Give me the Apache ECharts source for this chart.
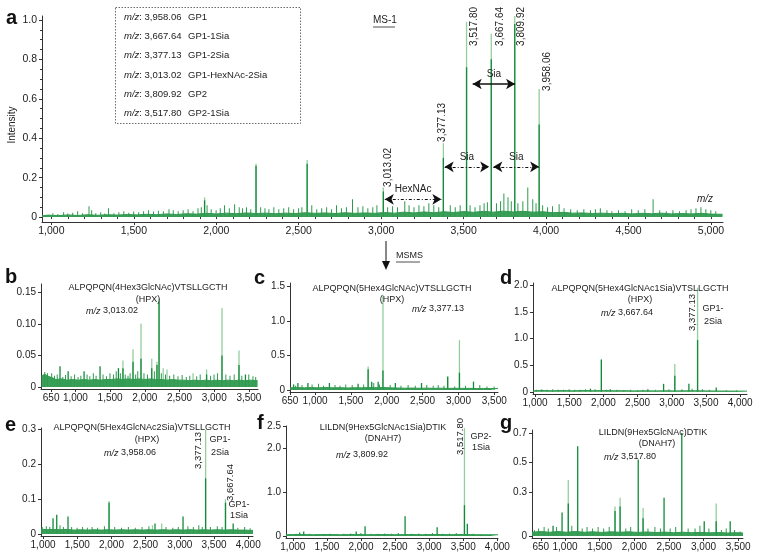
<!DOCTYPE html>
<html><head><meta charset="utf-8">
<script src="https://cdn.jsdelivr.net/npm/echarts@6/dist/echarts.min.js"></script>
<style>html,body{margin:0;padding:0;background:#fff}#c{width:761px;height:559px}</style>
</head><body><div id="c"></div>
<script>
// ---------------- DATA ----------------
// Panel a (MS-1)
const aXTicks = [1000,1500,2000,2500,3000,3500,4000,4500,5000];
const aYTicks = [0,0.2,0.4,0.6,0.8,1.0];
const aYLabels = ['0','0.2','0.4','0.6','0.8','1.0'];
const aLight = [[1929,0.10],[2241,0.27],[2551,0.29],[3013.02,0.15],[3377.13,0.375],[3517.80,0.99],[3667.64,0.93],[3809.92,1.02],[3958.06,0.65]];
const aDark = [[1929,0.085],[2241,0.26],[2551,0.27],[3013.02,0.13],[3377.13,0.30],[3517.80,0.76],[3667.64,0.80],[3809.92,0.98],[3958.06,0.47]];
const aSmall = [[1010,.02],[1040,.015],[1075,.025],[1100,.018],[1130,.022],[1160,.03],[1190,.02],[1229,.055],[1245,.035],[1270,.02],[1300,.025],[1325,.018],[1347,.045],[1380,.02],[1410,.025],[1440,.03],[1470,.022],[1500,.028],[1530,.025],[1560,.03],[1590,.035],[1620,.028],[1650,.032],[1680,.03],[1714,.04],[1740,.035],[1770,.03],[1800,.035],[1830,.04],[1860,.03],[1890,.045],[1910,.05],[1945,.06],[1970,.04],[2000,.035],[2025,.045],[2051,.06],[2080,.045],[2112,.065],[2140,.05],[2160,.045],[2184,.05],[2210,.04],[2270,.05],[2296,.045],[2320,.04],[2350,.05],[2380,.04],[2410,.045],[2440,.05],[2470,.04],[2500,.045],[2520,.05],[2580,.06],[2610,.04],[2640,.045],[2670,.05],[2700,.04],[2730,.06],[2760,.045],[2790,.05],[2827,.09],[2860,.05],[2890,.055],[2920,.045],[2950,.05],[2975,.06],[3040,.05],[3070,.055],[3100,.05],[3144,.08],[3170,.06],[3200,.05],[3230,.06],[3260,.055],[3290,.07],[3320,.06],[3350,.05],[3420,.06],[3450,.05],[3480,.06],[3540,.06],[3570,.05],[3600,.06],[3625,.07],[3645,.075],[3700,.07],[3725,.08],[3745,.12],[3770,.1],[3790,.08],[3830,.07],[3860,.08],[3890,.15],[3920,.09],[3940,.07],[3980,.06],[4010,.05],[4040,.055],[4080,.065],[4110,.045],[4150,.04],[4190,.035],[4230,.04],[4270,.035],[4300,.04],[4330,.045],[4370,.035],[4400,.03],[4440,.035],[4480,.03],[4520,.04],[4560,.035],[4600,.04],[4650,.09],[4690,.035],[4730,.03],[4770,.035],[4810,.03],[4850,.035],[4880,.04],[4910,.045],[4940,.05],[4970,.04],[5000,.035],[5030,.03]];
const aFloor = [[943,.006],[980,.01],[1040,.007],[1100,.011],[1160,.008],[1220,.012],[1280,.009],[1340,.012],[1400,.01],[1460,.013],[1520,.011],[1580,.014],[1640,.012],[1700,.016],[1760,.013],[1820,.017],[1880,.015],[1940,.019],[2000,.016],[2060,.02],[2120,.017],[2180,.021],[2240,.018],[2300,.02],[2360,.017],[2420,.02],[2480,.018],[2540,.022],[2600,.019],[2660,.021],[2720,.018],[2780,.022],[2840,.019],[2900,.021],[2960,.019],[3020,.023],[3080,.02],[3140,.025],[3200,.021],[3260,.026],[3320,.022],[3380,.027],[3440,.023],[3500,.028],[3560,.024],[3620,.029],[3680,.025],[3740,.03],[3800,.026],[3860,.029],[3920,.025],[3980,.027],[4040,.022],[4100,.024],[4160,.02],[4220,.021],[4280,.018],[4340,.02],[4400,.017],[4460,.019],[4520,.016],[4580,.019],[4640,.017],[4700,.02],[4760,.016],[4820,.018],[4880,.016],[4940,.019],[5000,.015],[5070,.014]];
const aPeakLabels = ['3,013.02','3,377.13','3,517.80','3,667.64','3,809.92','3,958.06'];
const aPeakMz = [3013.02,3377.13,3517.80,3667.64,3809.92,3958.06];
const aArrows = [[3555,3812,0.675,'Sia'],[3385,3655,0.255,'Sia'],[3680,3958,0.255,'Sia'],[3022,3365,0.09,'HexNAc']];
const aLegendMz = ['3,958.06','3,667.64','3,377.13','3,013.02','3,809.92','3,517.80'];
const aLegendName = ['GP1','GP1-1Sia','GP1-2Sia','GP1-HexNAc-2Sia','GP2','GP2-1Sia'];

// Panel b
const bXTicks = [650,1000,1500,2000,2500,3000,3500];
const bYTicks = [0,0.05,0.10,0.15];
const bYLabels = ['0','0.05','0.10','0.15'];
const bLight = [[1685,0.042],[1830,0.06],[1945,0.10],[2100,0.045],[2175,0.04],[2205,0.14],[2265,0.03],[2320,0.028],[2695,0.022],[2890,0.028],[3112,0.125],[3357,0.058]];
const bDark = [[778,0.033],[895,0.025],[1125,0.025],[1355,0.033],[1620,0.03],[1685,0.03],[1830,0.04],[1945,0.045],[2100,0.03],[2175,0.035],[2205,0.135],[2890,0.02],[3112,0.05],[3357,0.035],[3450,0.02]];
const bSmall = [[560,0.024],[600,0.022],[660,0.022],[700,0.018],[740,0.02],[820,0.016],[860,0.019],[940,0.017],[990,0.02],[1040,0.016],[1080,0.018],[1170,0.02],[1210,0.017],[1260,0.022],[1300,0.018],[1400,0.02],[1450,0.017],[1500,0.022],[1550,0.02],[1590,0.025],[1650,0.022],[1720,0.02],[1760,0.018],[1790,0.022],[1870,0.02],[1900,0.025],[1990,0.022],[2040,0.02],[2140,0.025],[2240,0.022],[2300,0.02],[2360,0.018],[2420,0.02],[2480,0.017],[2540,0.019],[2600,0.016],[2650,0.018],[2750,0.017],[2800,0.02],[2950,0.018],[3000,0.02],[3050,0.022],[3170,0.02],[3230,0.018],[3290,0.02],[3400,0.018],[3500,0.02],[3560,0.017],[3600,0.016]];
const bFloor = [[510,0.018],[560,0.02],[610,0.017],[660,0.015],[720,0.012],[800,0.013],[880,0.011],[960,0.012],[1040,0.011],[1120,0.012],[1200,0.011],[1280,0.012],[1360,0.011],[1440,0.012],[1520,0.012],[1600,0.013],[1680,0.012],[1760,0.013],[1840,0.012],[1920,0.013],[2000,0.012],[2080,0.013],[2160,0.012],[2240,0.012],[2320,0.011],[2400,0.012],[2480,0.011],[2560,0.011],[2640,0.01],[2720,0.011],[2800,0.01],[2880,0.011],[2960,0.01],[3040,0.011],[3120,0.01],[3200,0.011],[3280,0.01],[3360,0.011],[3440,0.01],[3520,0.011],[3625,0.01]];

// Panel c
const cXTicks = [650,1000,1500,2000,2500,3000,3500];
const cYTicks = [0,0.5,1.0,1.5];
const cYLabels = ['0','0.5','1.0','1.5'];
const cLight = [[1740,0.34],[1947,1.38],[2850,0.2],[3014,0.72]];
const cDark = [[700,0.08],[760,0.1],[900,0.1],[1200,0.1],[1600,0.09],[1740,0.3],[1790,0.12],[1880,0.12],[1947,0.28],[2120,0.1],[2485,0.1],[2850,0.19],[3014,0.25],[3210,0.12]];
const cSmall = [[730,0.06],[820,0.07],[960,0.08],[1050,0.09],[1120,0.06],[1280,0.07],[1350,0.06],[1430,0.08],[1520,0.07],[1680,0.08],[1820,0.1],[1900,0.08],[2050,0.07],[2200,0.06],[2300,0.07],[2400,0.06],[2560,0.07],[2650,0.06],[2720,0.07],[2800,0.06],[2950,0.05],[3100,0.06],[3300,0.07],[3400,0.05],[3500,0.05]];
const cFloor = [[650,0.03],[750,0.035],[850,0.03],[950,0.035],[1050,0.03],[1150,0.035],[1250,0.03],[1350,0.032],[1450,0.028],[1550,0.032],[1650,0.03],[1750,0.035],[1850,0.032],[1950,0.035],[2050,0.03],[2150,0.028],[2250,0.025],[2350,0.027],[2450,0.024],[2550,0.026],[2650,0.023],[2750,0.025],[2850,0.022],[2950,0.024],[3050,0.022],[3150,0.023],[3250,0.02],[3350,0.022],[3450,0.02],[3552,0.02]];

// Panel d
const dXTicks = [1000,1500,2000,2500,3000,3500,4000];
const dYTicks = [0,0.5,1.0,1.5,2.0];
const dYLabels = ['0','0.5','1.0','1.5','2.0'];
const dLight = [[1970,0.62],[3044,0.52],[3377.13,1.95]];
const dDark = [[1810,0.06],[1970,0.6],[2100,0.05],[2650,0.05],[2880,0.15],[3044,0.3],[3250,0.15],[3377.13,0.97],[3650,0.08]];
const dSmall = [[1020,0.04],[1100,0.05],[1180,0.04],[1260,0.05],[1340,0.04],[1420,0.04],[1500,0.05],[1580,0.04],[1660,0.04],[1740,0.05],[1880,0.05],[2050,0.04],[2200,0.04],[2300,0.03],[2400,0.04],[2500,0.03],[2580,0.04],[2760,0.04],[2960,0.05],[3150,0.05],[3300,0.06],[3450,0.05],[3550,0.04],[3800,0.03],[3950,0.03]];
const dFloor = [[970,0.02],[1100,0.025],[1250,0.02],[1400,0.025],[1550,0.02],[1700,0.025],[1850,0.022],[2000,0.025],[2150,0.02],[2300,0.022],[2450,0.018],[2600,0.02],[2750,0.018],[2900,0.02],[3050,0.018],[3200,0.02],[3350,0.022],[3500,0.018],[3650,0.016],[3800,0.015],[3950,0.014],[4100,0.014]];

// Panel e
const eXTicks = [1000,1500,2000,2500,3000,3500,4000];
const eYTicks = [0,0.1,0.2,0.3];
const eYLabels = ['0','0.1','0.2','0.3'];
const eLight = [[1965,0.095],[2600,0.025],[2735,0.03],[3377.13,0.30],[3667.64,0.10]];
const eDark = [[1146,0.045],[1200,0.055],[1365,0.05],[1965,0.09],[2637,0.03],[3047,0.05],[3377.13,0.16],[3667.64,0.09],[3780,0.03]];
const eSmall = [[990,0.02],[1050,0.022],[1100,0.02],[1250,0.025],[1300,0.02],[1420,0.02],[1500,0.018],[1580,0.02],[1650,0.018],[1720,0.02],[1800,0.018],[1900,0.022],[2050,0.02],[2150,0.018],[2250,0.02],[2350,0.018],[2450,0.02],[2550,0.022],[2800,0.02],[2900,0.018],[2980,0.02],[3120,0.022],[3200,0.02],[3280,0.025],[3330,0.02],[3450,0.02],[3550,0.022],[3620,0.02],[3850,0.018],[3950,0.02],[4030,0.016]];
const eFloor = [[970,0.014],[1050,0.012],[1150,0.013],[1250,0.012],[1350,0.013],[1450,0.011],[1550,0.012],[1650,0.011],[1750,0.012],[1850,0.011],[1950,0.012],[2050,0.011],[2150,0.012],[2250,0.011],[2350,0.012],[2450,0.011],[2550,0.012],[2650,0.011],[2750,0.012],[2850,0.011],[2950,0.012],[3050,0.011],[3150,0.012],[3250,0.011],[3350,0.012],[3450,0.011],[3550,0.012],[3650,0.011],[3750,0.012],[3850,0.011],[3950,0.011],[4070,0.01]];

// Panel f
const fXTicks = [1000,1500,2000,2500,3000,3500,4000];
const fYTicks = [0,1.0,2.0,2.5];
const fYLabels = ['0','1.0','2.0','2.5'];
const fLight = [[3517.80,2.45]];
const fDark = [[1100,0.08],[1160,0.1],[1930,0.1],[2060,0.22],[2647,0.45],[3117,0.2],[3517.80,0.7],[3560,0.28]];
const fSmall = [[950,0.04],[1050,0.05],[1250,0.05],[1350,0.04],[1450,0.04],[1550,0.05],[1650,0.04],[1750,0.05],[1850,0.06],[2000,0.07],[2150,0.05],[2250,0.05],[2350,0.06],[2450,0.05],[2550,0.07],[2750,0.05],[2850,0.06],[2950,0.05],[3050,0.07],[3200,0.05],[3300,0.06],[3400,0.07],[3650,0.05],[3750,0.04],[3900,0.04]];
const fFloor = [[900,0.03],[1100,0.035],[1300,0.03],[1500,0.035],[1700,0.03],[1900,0.035],[2100,0.03],[2300,0.035],[2500,0.03],[2700,0.035],[2900,0.03],[3100,0.035],[3300,0.03],[3500,0.035],[3700,0.03],[3900,0.028],[4010,0.028]];

// Panel g
const gXTicks = [650,1000,1500,2000,2500,3000,3500];
const gYTicks = [0,0.3,0.5,0.7];
const gYLabels = ['0','0.3','0.5','0.7'];
const gLight = [[1047,0.38],[1722,0.2],[1795,0.26],[2127,0.19],[3183,0.22]];
const gDark = [[827,0.07],[957,0.16],[1047,0.22],[1183,0.61],[1722,0.17],[1795,0.2],[2057,0.52],[2127,0.12],[2430,0.26],[2686,0.70],[3010,0.1],[3183,0.1],[3385,0.1]];
const gSmall = [[560,0.04],[620,0.05],[700,0.06],[760,0.05],[880,0.06],[1100,0.07],[1250,0.05],[1320,0.06],[1400,0.05],[1480,0.06],[1560,0.05],[1640,0.06],[1880,0.05],[1950,0.06],[2200,0.05],[2300,0.06],[2380,0.05],[2520,0.05],[2600,0.06],[2780,0.05],[2880,0.05],[2950,0.07],[3080,0.05],[3260,0.04],[3330,0.05],[3450,0.04],[3530,0.03]];
const gFloor = [[523,0.025],[650,0.03],[780,0.025],[900,0.03],[1020,0.025],[1150,0.03],[1280,0.025],[1400,0.028],[1530,0.024],[1660,0.028],[1790,0.025],[1920,0.028],[2050,0.024],[2180,0.027],[2310,0.023],[2440,0.026],[2570,0.022],[2700,0.025],[2830,0.022],[2960,0.024],[3090,0.021],[3220,0.023],[3350,0.02],[3480,0.022],[3570,0.02]];

// ---------------- CHART ----------------
const FONT = '"Liberation Sans", Arial, Helvetica, sans-serif';
const DARK = '#138a3a', LIGHT = '#92cf9e', MID = '#2f9a4f', AX = '#333';
const fmtK = v => Number(v).toLocaleString('en-US');

const panels = [
  {g:[42,16,681,206], x:[943,5073], y:[-0.025,1.02], xt:aXTicks, yt:aYTicks, yl:aYLabels, floor:aFloor, small:aSmall, light:aLight, dark:aDark, fs:10.5},
  {g:[41,284,217,105], x:[504,3631], y:[-0.003,0.163], xt:bXTicks, yt:bYTicks, yl:bYLabels, floor:bFloor, small:bSmall, light:bLight, dark:bDark, fs:10},
  {g:[290,283,208,109], x:[650,3552], y:[-0.03,1.55], xt:cXTicks, yt:cYTicks, yl:cYLabels, floor:cFloor, small:cSmall, light:cLight, dark:cDark, fs:10},
  {g:[533,283,214,111], x:[970,4100], y:[-0.04,2.04], xt:dXTicks, yt:dYTicks, yl:dYLabels, floor:dFloor, small:dSmall, light:dLight, dark:dDark, fs:10},
  {g:[41,428,212,108], x:[970,4070], y:[-0.006,0.305], xt:eXTicks, yt:eYTicks, yl:eYLabels, floor:eFloor, small:eSmall, light:eLight, dark:eDark, fs:10},
  {g:[286,426,212,112], x:[900,4010], y:[-0.045,2.5], xt:fXTicks, yt:fYTicks, yl:fYLabels, floor:fFloor, small:fSmall, light:fLight, dark:fDark, fs:10},
  {g:[532,430,211,108], x:[523,3570], y:[-0.014,0.72], xt:gXTicks, yt:gYTicks, yl:gYLabels, floor:gFloor, small:gSmall, light:gLight, dark:gDark, fs:10}
];

const grid = [], xAxis = [], yAxis = [], series = [];
panels.forEach((p, i) => {
  grid.push({left:p.g[0], top:p.g[1], width:p.g[2], height:p.g[3], containLabel:false});
  xAxis.push({type:'value', gridIndex:i, min:p.x[0], max:p.x[1],
    axisLine:{onZero:false, lineStyle:{color:AX, width:1}},
    axisTick:{customValues:p.xt, length:3, lineStyle:{color:AX}},
    axisLabel:{customValues:p.xt, formatter:fmtK, color:'#222', fontSize:p.fs, fontFamily:FONT, margin:4},
    splitLine:{show:false}});
  const lbl = {}; p.yt.forEach((v,k)=>{ lbl[String(v)] = p.yl[k]; });
  yAxis.push({type:'value', gridIndex:i, min:p.y[0], max:p.y[1],
    axisLine:{show:true, lineStyle:{color:AX, width:1}},
    axisTick:{show:true, customValues:p.yt, length:3, lineStyle:{color:AX}},
    axisLabel:{customValues:p.yt, formatter:v => lbl[String(v)] ?? '', color:'#222', fontSize:p.fs, fontFamily:FONT, margin:5},
    splitLine:{show:false}});
  series.push({type:'line', xAxisIndex:i, yAxisIndex:i, data:p.floor, symbol:'none', silent:true,
    lineStyle:{color:MID, width:1}, areaStyle:{color:MID, opacity:0.95}, z:3, animation:false});
  series.push({type:'bar', xAxisIndex:i, yAxisIndex:i, data:p.small, barWidth:1, barGap:'-100%', itemStyle:{color:MID}, silent:true, animation:false, z:2});
  series.push({type:'bar', xAxisIndex:i, yAxisIndex:i, data:p.light, barWidth:1.3, barGap:'-100%', itemStyle:{color:LIGHT}, silent:true, animation:false, z:2});
  series.push({type:'bar', xAxisIndex:i, yAxisIndex:i, data:p.dark, barWidth:1.3, barGap:'-100%', itemStyle:{color:DARK}, silent:true, animation:false, z:2});
});

// minor ticks for panel a
const aMinorX = []; for (let v = 1000; v <= 5000; v += 100) aMinorX.push(v);
const aMinorY = []; for (let v = 0; v <= 100; v += 5) aMinorY.push(v/100);
xAxis.push({type:'value', gridIndex:0, min:943, max:5073, position:'bottom', axisLine:{show:false},
  axisTick:{customValues:aMinorX, length:2, lineStyle:{color:AX}}, axisLabel:{show:false}, splitLine:{show:false}});
yAxis.push({type:'value', gridIndex:0, min:-0.025, max:1.02, position:'left', axisLine:{show:false},
  axisTick:{show:true, customValues:aMinorY, length:2, lineStyle:{color:AX}}, axisLabel:{show:false}, splitLine:{show:false}});

// arrows in panel a (markLine on a helper series)
series.push({type:'line', xAxisIndex:0, yAxisIndex:0, data:[], silent:true, animation:false,
  markLine:{silent:true, animation:false, symbol:['arrow','arrow'], symbolSize:[8,9], label:{show:false},
    data: aArrows.map((a, k) => [
      {coord:[a[0], a[2]], lineStyle:{color:'#111', width: k===0 ? 1.6 : 1.1, type: k===0 ? 'solid' : [3,2,1,2]}},
      {coord:[a[1], a[2]]}
    ])}});

const chart = echarts.init(document.getElementById('c'), null, {renderer:'canvas'});
chart.setOption({animation:false, backgroundColor:'#fff', grid, xAxis, yAxis, series});

// ---------------- TEXT / GRAPHICS ----------------
const G = [];
const txt = (x, y, text, o={}) => G.push({type:'text', x, y, z:100, rotation:o.rot||0,
  style:{text, fill:o.fill||'#222', font:(o.font||'9px')+' '+FONT, align:o.align||'center', verticalAlign:o.va||'middle',
    rich:{i:{fontStyle:'italic', fontSize:o.fsz||9, fontFamily:FONT, fill:'#222'}}}});
const px = (i, x, y) => chart.convertToPixel({gridIndex:i}, [x, y]);
const rot = (i, mz, dx, top, text, size) => { const p = px(i, mz, 0);
  txt(p[0]+dx, top, text, {rot:Math.PI/2, align:'right', font:size||'9.5px'}); };

// panel letters
[['a',6,18],['b',5,277],['c',254,278],['d',500,278],['e',5,425],['f',257,423],['g',500,423]]
  .forEach(l => txt(l[1], l[2], l[0], {font:'bold 20px', align:'left', fill:'#111'}));

// panel a
txt(12, 125, 'Intensity', {rot:Math.PI/2, font:'10px'});
txt(373, 20, 'MS-1', {align:'left', font:'10px'});
G.push({type:'line', z:100, shape:{x1:373, y1:27, x2:395, y2:27}, style:{stroke:'#222', lineWidth:0.8}});
txt(705, 199, 'm/z', {font:'italic 10px'});
const aOff = [[5,148],[-1,103],[8,7],[9,7],[7,7],[8,52]];
aPeakMz.forEach((mz, k) => rot(0, mz, aOff[k][0], aOff[k][1], aPeakLabels[k], '10px'));
aArrows.forEach(a => { const p1 = px(0, a[0], a[2]), p2 = px(0, a[1], a[2]);
  txt((p1[0]+p2[0])/2, p1[1]-10, a[3], {font:'10px'}); });
// legend box
G.push({type:'rect', z:100, shape:{x:115.5, y:7.5, width:185, height:116}, style:{fill:'none', stroke:'#444', lineWidth:0.8, lineDash:[1.5,1.5]}});
aLegendMz.forEach((m, k) => {
  const y = 17 + k*19.3;
  txt(124, y, '{i|m/z}: ' + m, {align:'left', font:'9.5px', fsz:9.5});
  txt(188, y, aLegendName[k], {align:'left', font:'9.5px'});
});
// MSMS arrow
G.push({type:'line', z:100, shape:{x1:386, y1:241, x2:386, y2:262}, style:{stroke:'#111', lineWidth:1}});
G.push({type:'polygon', z:100, shape:{points:[[382,261],[390,261],[386,270]]}, style:{fill:'#111'}});
txt(396, 256, 'MSMS', {align:'left', font:'9px'});
G.push({type:'line', z:100, shape:{x1:396, y1:262, x2:420, y2:262}, style:{stroke:'#222', lineWidth:0.8}});

// panel b
txt(148, 288, 'ALPQPQN(4Hex3GlcNAc)VTSLLGCTH');
txt(148, 300, '(HPX)');
txt(112, 311, '{i|m/z} 3,013.02');
// panel c
txt(392, 289, 'ALPQPQN(5Hex4GlcNAc)VTSLLGCTH');
txt(392, 300, '(HPX)');
txt(438, 309, '{i|m/z} 3,377.13');
// panel d
txt(640, 289, 'ALPQPQN(5Hex4GlcNAc1Sia)VTSLLGCTH');
txt(640, 300, '(HPX)');
txt(627, 313, '{i|m/z} 3,667.64');
rot(3, 3377.13, -5, 294, '3,377.13');
txt(713, 309, 'GP1-'); txt(713, 322, '2Sia');
// panel e
txt(142, 428, 'ALPQPQN(5Hex4GlcNAc2Sia)VTSLLGCTH');
txt(147, 440, '(HPX)');
txt(130, 453, '{i|m/z} 3,958.06');
rot(4, 3377.13, -7, 432, '3,377.13');
rot(4, 3667.64, 5, 464, '3,667.64');
txt(220, 440, 'GP1-'); txt(220, 453, '2Sia');
txt(239, 505, 'GP1-'); txt(239, 516, '1Sia');
// panel f
txt(383, 428, 'LILDN(9Hex5GlcNAc1Sia)DTIK');
txt(383, 439, '(DNAH7)');
txt(362, 455, '{i|m/z} 3,809.92');
rot(5, 3517.80, -4, 418, '3,517.80');
txt(481, 437, 'GP2-'); txt(481, 448, '1Sia');
// panel g
txt(653, 433, 'LILDN(9Hex5GlcNAc)DTIK');
txt(657, 444, '(DNAH7)');
txt(630, 457, '{i|m/z} 3,517.80');

chart.setOption({graphic: G});
</script></body></html>
